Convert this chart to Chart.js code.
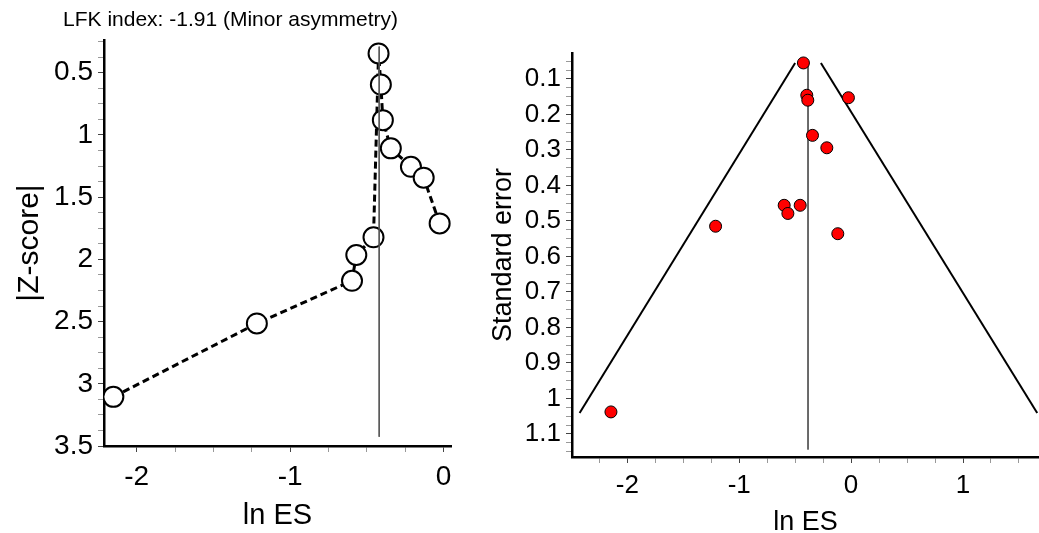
<!DOCTYPE html>
<html><head>
<meta charset="UTF-8">
<title>Doi plot and funnel plot</title>
<script src="https://cdn.jsdelivr.net/npm/chart.js"></script>
<style>
    body { margin: 0; background: #fff; overflow: hidden; }
    .panel { position: absolute; top: 0; height: 533px; }
    #doiBox { left: 0; width: 463px; }
    #funnelBox { left: 460px; width: 586px; }
</style>
</head>
<body>
<div class="panel" id="doiBox"><canvas id="doiChart"></canvas></div>
<div class="panel" id="funnelBox"><canvas id="funnelChart"></canvas></div>
<script>
// Doi plot (left panel), points in drawing order
const doiLnES = [-2.152, -1.217, -0.597, -0.569, -0.457, -0.424, -0.409, -0.396, -0.344, -0.213, -0.130, -0.026];
const doiZ    = [3.105, 2.515, 2.172, 1.965, 1.823, 0.345, 0.595, 0.881, 1.108, 1.256, 1.344, 1.711];
const doiPooledX = [-0.42, -0.42];
const doiPooledZ = [0.29, 3.426];
const doiXTicks = [-2, -1, 0];
const doiYTicks = [0.5, 1, 1.5, 2, 2.5, 3, 3.5];
const doiTitle = 'LFK index: -1.91 (Minor asymmetry)';

// Funnel plot (right panel)
const funnelLnES = [-0.426, -0.396, -0.387, -0.024, -0.345, -0.217, -0.598, -0.455, -0.565, -0.119, -1.211, -2.146];
const funnelSE   = [0.055, 0.146, 0.160, 0.153, 0.259, 0.294, 0.456, 0.456, 0.479, 0.536, 0.515, 1.038];
const funnelPooledX = [-0.385, -0.385];
const funnelPooledSE = [0.055, 1.144];
const funnelLeftX = [-0.50, -2.426];
const funnelRightX = [-0.27, 1.663];
const funnelEdgeSE = [0.055, 1.041];
const funnelXTicks = [-2, -1, 0, 1];
const funnelYTicks = [0.1, 0.2, 0.3, 0.4, 0.5, 0.6, 0.7, 0.8, 0.9, 1, 1.1];

Chart.defaults.font.family = "'Liberation Sans', Arial, sans-serif";
Chart.defaults.color = '#000';

const pts = (xs, ys) => xs.map((x, i) => ({x: x, y: ys[i]}));

// major ticks plus unlabelled minor ticks between them
function tickList(min, max, step) {
    const out = [];
    const a = Math.ceil(min / step - 1e-6), b = Math.floor(max / step + 1e-6);
    for (let i = a; i <= b; i++) out.push(+(i * step).toFixed(4));
    return out;
}

function axis(o) {
    const isMajor = v => o.majors.some(m => Math.abs(m - v) < 1e-6);
    const list = tickList(o.min, o.max, o.minor);
    return {
        type: 'linear',
        position: o.position,
        min: o.min,
        max: o.max,
        reverse: !!o.reverse,
        afterBuildTicks: s => { s.ticks = list.map(v => ({value: v})); },
        afterFit: s => {
            if (o.position === 'bottom') s.height = o.size; else s.width = o.size;
        },
        border: {display: true, color: '#000', width: 2.5},
        grid: {
            drawOnChartArea: false,
            drawTicks: true,
            tickLength: 6,
            tickWidth: 1,
            tickColor: c => (c.tick && isMajor(c.tick.value)) ? '#444' : '#999'
        },
        ticks: {
            autoSkip: false,
            maxRotation: 0,
            padding: o.tickPad,
            font: {size: o.tickSize},
            callback: v => isMajor(v) ? String(+v.toFixed(3)) : ''
        },
        title: {
            display: true,
            text: o.title,
            font: {size: o.titleSize},
            padding: o.titlePad
        }
    };
}

// Doi plot
new Chart(document.getElementById('doiChart'), {
    type: 'scatter',
    data: {
        datasets: [{
            data: pts(doiLnES, doiZ),
            showLine: true,
            borderColor: '#000',
            borderWidth: 3,
            borderDash: [7, 4],
            pointRadius: 10,
            pointBorderWidth: 2,
            pointBackgroundColor: '#fff',
            pointBorderColor: '#000',
            order: 2
        }, {
            data: pts(doiPooledX, doiPooledZ),
            showLine: true,
            borderColor: '#555',
            borderWidth: 1,
            pointRadius: 0,
            order: 1
        }]
    },
    options: {
        responsive: true,
        maintainAspectRatio: false,
        animation: false,
        events: [],
        layout: {padding: {left: 7, right: 9, top: 0, bottom: 0}},
        plugins: {
            legend: {display: false},
            tooltip: {enabled: false},
            title: {
                display: true,
                text: doiTitle,
                color: '#000',
                font: {size: 21, weight: 'normal'},
                padding: {top: 8, bottom: 6.8}
            }
        },
        scales: {
            x: axis({position: 'bottom', min: -2.213, max: 0.048, majors: doiXTicks, minor: 0.25,
                     size: 87, tickPad: 8, tickSize: 28, title: 'ln ES', titleSize: 29,
                     titlePad: {top: 0, bottom: 0}}),
            y: axis({position: 'left', min: 0.237, max: 3.5, reverse: true, majors: doiYTicks, minor: 0.125,
                     size: 97, tickPad: 5, tickSize: 28, title: '|Z-score|', titleSize: 30,
                     titlePad: {top: 5, bottom: 0}})
        }
    }
});

// Funnel plot
new Chart(document.getElementById('funnelChart'), {
    type: 'scatter',
    data: {
        datasets: [{
            data: pts(funnelLnES, funnelSE),
            pointRadius: 6,
            pointBorderWidth: 1,
            pointBackgroundColor: '#ff0000',
            pointBorderColor: '#000',
            order: 0
        }, {
            data: pts(funnelLeftX, funnelEdgeSE),
            showLine: true,
            borderColor: '#000',
            borderWidth: 2,
            pointRadius: 0,
            order: 1
        }, {
            data: pts(funnelRightX, funnelEdgeSE),
            showLine: true,
            borderColor: '#000',
            borderWidth: 2,
            pointRadius: 0,
            order: 1
        }, {
            data: pts(funnelPooledX, funnelPooledSE),
            showLine: true,
            borderColor: '#555',
            borderWidth: 1,
            pointRadius: 0,
            order: 2
        }]
    },
    options: {
        responsive: true,
        maintainAspectRatio: false,
        animation: false,
        events: [],
        layout: {padding: {left: 21, right: 0, top: 53, bottom: 0}},
        plugins: {
            legend: {display: false},
            tooltip: {enabled: false}
        },
        scales: {
            x: axis({position: 'bottom', min: -2.494, max: 1.679, majors: funnelXTicks, minor: 0.25,
                     size: 76, tickPad: 7, tickSize: 26, title: 'ln ES', titleSize: 27,
                     titlePad: {top: 0, bottom: -6}}),
            y: axis({position: 'left', min: 0.027, max: 1.165, reverse: true, majors: funnelYTicks, minor: 0.025,
                     size: 91, tickPad: 5, tickSize: 26, title: 'Standard error', titleSize: 27,
                     titlePad: {top: 6, bottom: 0}})
        }
    }
});
</script>
</body></html>
